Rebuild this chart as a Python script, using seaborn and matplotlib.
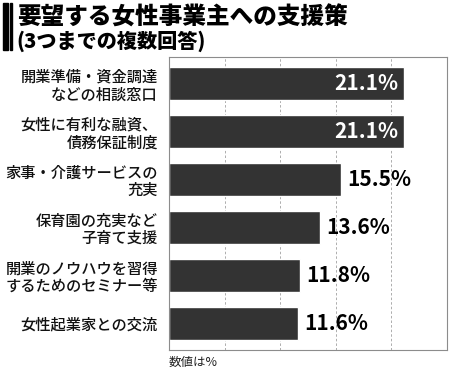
import matplotlib
matplotlib.use('Agg')
import matplotlib.pyplot as plt
import seaborn as sns
import pandas as pd
from matplotlib.patches import Rectangle


# Chart data
categories = [
    '開業準備・資金調達\nなどの相談窓口',
    '女性に有利な融資、\n債務保証制度',
    '家事・介護サービスの\n充実',
    '保育園の充実など\n子育て支援',
    '開業のノウハウを習得\nするためのセミナー等',
    '女性起業家との交流',
]
values = [21.1, 21.1, 15.5, 13.6, 11.8, 11.6]
value_labels = ['21.1%', '21.1%', '15.5%', '13.6%', '11.8%', '11.6%']
grid_ticks = [5, 10, 15, 20]

title_text = '要望する女性事業主への支援策'
subtitle_text = '(3つまでの複数回答)'
note_text = '数値は%'

sns.set_theme(style='white')
plt.rcParams['font.family'] = ['Noto Sans CJK JP', 'DejaVu Sans']

df = pd.DataFrame({'item': categories, 'pct': values})

fig = plt.figure(figsize=(4.5, 3.73), dpi=100)
ax = fig.add_axes([0.3756, 0.0617, 0.6178, 0.7855])

sns.barplot(data=df, x='pct', y='item', orient='h', color='#333333',
            saturation=1, width=0.69, ax=ax)

ax.set_xlim(0, 25)
ax.set_ylim(5.56, -0.56)
ax.set_xticks(grid_ticks)
ax.set_xticklabels([])
ax.tick_params(axis='x', length=0)
ax.tick_params(axis='y', length=0, pad=8)
ax.xaxis.grid(True, linestyle=(0, (3, 2.5)), color='#a0a0a0', linewidth=0.6)
ax.set_axisbelow(True)
ax.set_xlabel('')
ax.set_ylabel('')
for sp in ax.spines.values():
    sp.set_color('#8c8c8c')
    sp.set_linewidth(0.8)

for t in ax.get_yticklabels():
    t.set_fontsize(11)
    t.set_fontweight('medium')
    t.set_color('#111111')
    t.set_multialignment('right')
    t.set_linespacing(1.05)

# value labels, inside for the long bars
for i, (v, lab) in enumerate(zip(values, value_labels)):
    if v > 20:
        ax.text(v - 0.5, i, lab, ha='right', va='center', color='white',
                fontsize=15, fontweight='bold')
    else:
        ax.text(v + 0.55, i, lab, ha='left', va='center', color='black',
                fontsize=15, fontweight='bold')

# title block with the two bars on the left
fig.patches.append(Rectangle((3 / 450, 1 - 50 / 373), 5 / 450, 47 / 373,
                             transform=fig.transFigure, color='black'))
fig.patches.append(Rectangle((10 / 450, 1 - 50 / 373), 1.5 / 450, 47 / 373,
                             transform=fig.transFigure, color='black'))
fig.text(17 / 450, 1 - 17 / 373, title_text, fontsize=17, fontweight='black',
         va='center', ha='left', color='black')
fig.text(16 / 450, 1 - 41 / 373, subtitle_text, fontsize=14.5, fontweight='black',
         va='center', ha='left', color='black')

fig.text(169 / 450, 1 - 362 / 373, note_text, fontsize=9, va='center',
         ha='left', color='#222222')

fig.savefig('out.png', dpi=100)
